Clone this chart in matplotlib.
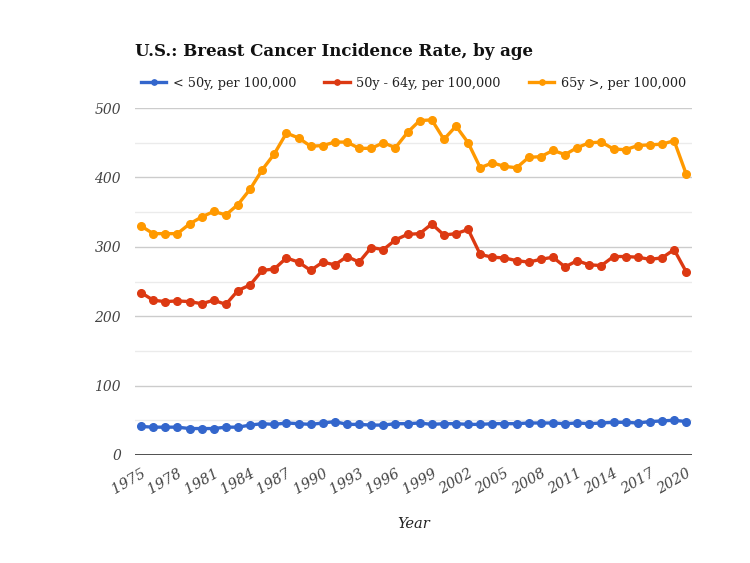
import numpy as np
import matplotlib.pyplot as plt
from matplotlib.ticker import MultipleLocator

years = list(range(1975, 2021))

under_50 = [41, 40, 40, 40, 38, 38, 38, 40, 40, 43, 45, 44, 46, 45, 44, 46, 48,
            44, 44, 43, 43, 45, 45, 46, 44, 45, 45, 44, 44, 45, 45, 45, 46, 46,
            46, 45, 46, 45, 46, 47, 47, 46, 48, 49, 50, 48]

age_50_64 = [234, 223, 221, 222, 221, 218, 223, 217, 237, 245, 266, 268, 284,
             278, 266, 278, 274, 286, 278, 299, 296, 310, 318, 319, 333, 317,
             319, 325, 289, 285, 284, 280, 278, 282, 285, 271, 280, 274, 273,
             286, 286, 285, 282, 284, 296, 264]

over_65 = [330, 319, 319, 319, 333, 343, 351, 346, 361, 383, 411, 434, 464,
           457, 445, 446, 451, 451, 442, 442, 450, 443, 465, 482, 483, 455,
           474, 450, 414, 421, 416, 414, 429, 430, 439, 433, 443, 450, 451,
           441, 440, 446, 447, 448, 453, 405]

labels = ['< 50y, per 100,000', '50y - 64y, per 100,000', '65y >, per 100,000']
colors = ['#3366cc', '#dc3912', '#ff9900']

plt.rcParams['font.family'] = ['DejaVu Serif']

fig = plt.figure(figsize=(7.5, 5.63), dpi=100)
ax = fig.add_axes([0.18, 0.192, 0.743, 0.616])

for ys, lab, c in zip([under_50, age_50_64, over_65], labels, colors):
    ax.plot(years, ys, color=c, lw=2.4, marker='o', ms=5.5, label=lab)

ax.set_xlim(1974.5, 2020.5)
ax.set_ylim(0, 500)
ax.yaxis.set_major_locator(MultipleLocator(100))
ax.yaxis.set_minor_locator(MultipleLocator(50))
ax.set_xticks(years[::3])
ax.grid(axis='y', which='major', color='#cccccc', lw=1)
ax.grid(axis='y', which='minor', color='#ebebeb', lw=1)
ax.set_axisbelow(True)
ax.axhline(0, color='#333333', lw=1.2)
for s in ax.spines.values():
    s.set_visible(False)
ax.tick_params(length=0, labelsize=10, colors='#444444', which='both')
ax.tick_params(axis='y', pad=10)
ax.tick_params(axis='x', pad=8, labelsize=10.3)
for t in ax.get_xticklabels():
    t.set_rotation(30)
    t.set_ha('right')
    t.set_rotation_mode('anchor')
    t.set_style('italic')
for t in ax.get_yticklabels():
    t.set_style('italic')

ax.set_xlabel('Year', fontsize=10.5, style='italic', color='#222222', labelpad=15)

fig.text(0.18, 0.909, 'U.S.: Breast Cancer Incidence Rate, by age',
         fontsize=12, fontweight='bold', color='#111111', va='center')
ax.legend(loc='lower left', bbox_to_anchor=(-0.01, 1.02), ncol=3, frameon=False,
          fontsize=9.2, handlelength=2.0, columnspacing=2.2, handletextpad=0.5,
          markerscale=0.7, labelcolor='#222222')

plt.savefig('out.png')
